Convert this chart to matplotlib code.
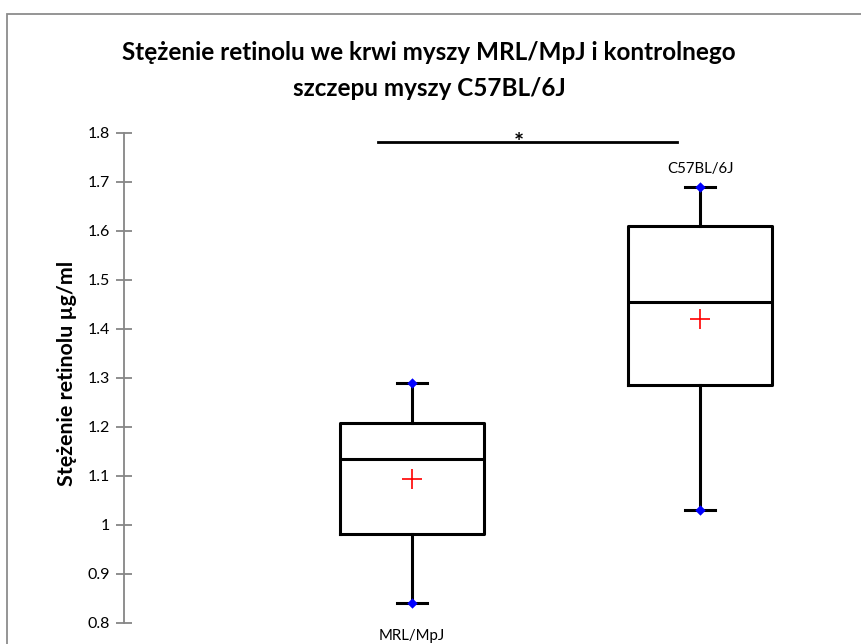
import matplotlib.pyplot as plt
from matplotlib.patches import Rectangle

# Retinol concentration per strain (box-plot summary statistics)
groups = ["MRL/MpJ", "C57BL/6J"]
minimum = [0.84, 1.03]
q1 = [0.982, 1.285]
median = [1.134, 1.454]
q3 = [1.208, 1.61]
maximum = [1.29, 1.69]
mean = [1.093, 1.42]
label_y = [0.773, 1.726]

# significance bracket between the two groups
sig_span = (0.882, 1.92)
sig_level = 1.781
sig_mark = "*"
sig_mark_x = 1.372

yticks = [0.8, 0.9, 1.0, 1.1, 1.2, 1.3, 1.4, 1.5, 1.6, 1.7, 1.8]

plt.rcParams['font.family'] = ['Lato', 'DejaVu Sans']

fig = plt.figure(figsize=(8.61, 6.44), dpi=100)
fig.patches.append(Rectangle((7 / 861, -0.05), 1.2, 1 - 14 / 644 + 0.05,
                             transform=fig.transFigure, fill=False,
                             edgecolor='#8c8c8c', linewidth=1.3))
ax = fig.add_axes([124 / 861, 21.3 / 644, 720 / 861, 490 / 644])

stats = []
for i, g in enumerate(groups):
    stats.append(dict(label=g, whislo=minimum[i], q1=q1[i], med=median[i],
                      q3=q3[i], whishi=maximum[i], mean=mean[i], fliers=[]))

pos = [1, 2]
line = dict(color='black', linewidth=2.2)
ax.bxp(stats, positions=pos, widths=0.5, showmeans=True, showfliers=False,
       boxprops=line, whiskerprops=line, capprops=line, medianprops=line,
       capwidths=0.105,
       meanprops=dict(marker='+', markeredgecolor='red', markersize=14,
                      markeredgewidth=1.2))

# whisker ends
ax.scatter(pos * 2, minimum + maximum, marker='D', s=28, color='#0000ff',
           zorder=5, linewidths=0)

for p, g, y in zip(pos, groups, label_y):
    ax.text(p, y, g, ha='center', va='center', fontsize=10.8, clip_on=False)

ax.plot(sig_span, [sig_level, sig_level], color='black', linewidth=2.0,
        clip_on=False)
ax.text(sig_mark_x, sig_level - 0.004, sig_mark, ha='center',
        va='center', fontsize=17, fontweight='bold')

ax.set_xlim(0, 2.5)
ax.set_ylim(0.8, 1.8)
ax.set_yticks(yticks)
ax.set_yticklabels([f"{v:g}" for v in yticks], fontsize=11.5)
ax.set_xticks([])
for s in ['top', 'right', 'bottom']:
    ax.spines[s].set_visible(False)
ax.spines['left'].set_color('#868686')
ax.spines['left'].set_linewidth(1.3)
ax.tick_params(axis='y', direction='inout', length=12, width=1.3,
               color='#868686', pad=4)

fig.text(429 / 861, 1 - 52 / 644, "Stężenie retinolu we krwi myszy MRL/MpJ i kontrolnego",
         ha='center', va='center', fontsize=17.5, fontweight='bold')
fig.text(429 / 861, 1 - 88 / 644, "szczepu myszy C57BL/6J",
         ha='center', va='center', fontsize=17.5, fontweight='bold')
fig.text(67 / 861, 1 - 373 / 644, "Stężenie retinolu µg/ml", rotation=90,
         ha='center', va='center', fontsize=15.4, fontweight='bold')

fig.savefig("out.png", dpi=100)
